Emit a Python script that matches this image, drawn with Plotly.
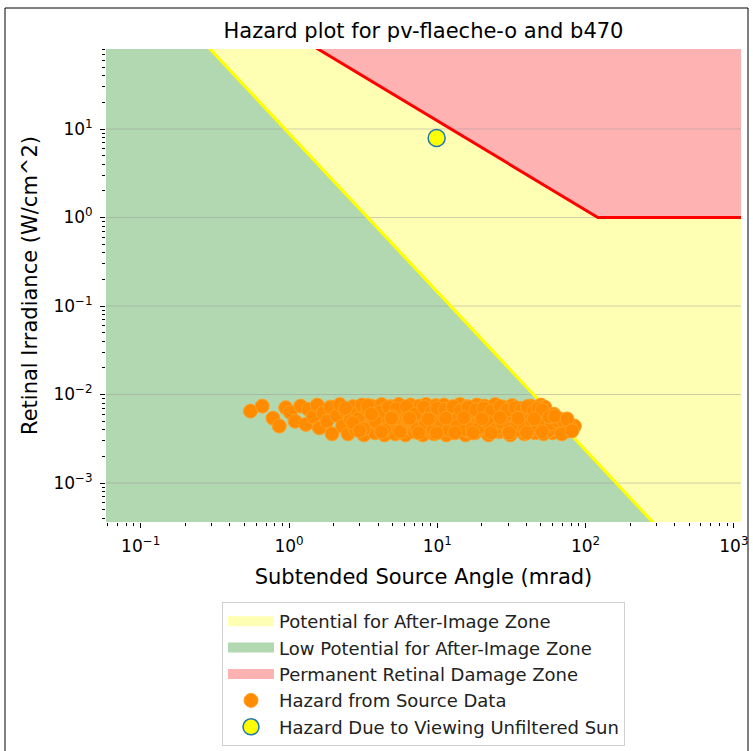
import plotly.graph_objects as go

# ---------------- data ----------------
x_range_log = [-1.234, 3.048]
y_range_log = [-3.44, 1.904]

# after-image threshold (yellow line) end points, extended beyond the frame
yellow_x = [0.1, 1000]
yellow_y = [550, 3.8e-5]
# permanent retinal damage threshold (red line)
red_x = [0.5, 121, 2000]
red_y = [254, 1.0, 1.0]

# hazard from source data (subtended angle mrad, retinal irradiance W/cm^2)
src_x = [0.55, 0.66, 0.78, 0.86, 0.95, 1.02, 1.1, 1.2, 1.3, 1.35, 1.45, 1.55, 1.6, 1.7, 1.8, 1.9, 1.95,
         2.1, 2.2, 2.3, 2.4, 2.5, 2.6, 2.7, 2.8, 2.9, 3.0, 3.1, 3.2, 3.3, 3.4, 3.5, 3.6, 3.7, 3.8, 3.9,
         4.0, 4.2, 4.3, 4.4, 4.5, 4.6, 4.8, 4.9,
         5.1, 5.2, 5.4, 5.5, 5.6, 5.8, 6.0, 6.1, 6.3, 6.5, 6.6, 6.8, 7.0, 7.2, 7.4, 7.6, 7.8, 8.0, 8.2,
         8.4, 8.6, 8.8, 9.0, 9.3, 9.5, 9.8,
         10.2, 10.5, 10.8, 11.1, 11.5, 11.8, 12.2, 12.6, 13.0, 13.4, 13.8, 14.2, 14.6, 15.0, 15.5, 16.0,
         16.5, 17.0, 17.5, 18.0, 18.5, 19.0, 19.6,
         20.2, 20.8, 21.5, 22.2, 23.0, 23.8, 24.6, 25.4, 26.2, 27.0, 28.0, 29.0, 30.0, 31.0, 32.0, 33.0,
         34.0, 35.0, 36.2, 37.4, 38.6, 39.8,
         41, 42.5, 44, 45.5, 47, 48.5, 50, 50, 53, 52, 54, 56, 58, 60, 62, 64, 66, 68, 70, 73, 76, 79, 84,
         11.0, 13.2, 15.8, 18.7, 21.9, 25.9, 30.5, 35.8, 42.0, 46.0, 57.0, 63.0, 71.0, 80.0,
         12.0, 14.0, 16.8, 19.8, 23.5, 27.8, 32.6, 38.0, 43.0, 49.0, 55.0, 61.0, 67.0, 74.0,
         2.4, 2.9, 3.4, 4.1, 4.7, 5.3, 6.2, 7.1, 8.1, 9.1, 10.0, 11.3, 12.8, 14.4, 16.2, 18.2, 20.5,
         23.2, 26.6, 29.6, 33.5, 37.0, 40.5, 44.8, 48.0, 51.0,
         2.7, 3.2, 3.8, 4.4, 5.0, 5.7, 6.4, 7.3, 8.3, 9.4, 10.6, 12.0, 13.6, 15.3, 17.2, 19.3, 21.7,
         24.4, 27.4, 30.8, 34.6, 38.9, 43.5, 47.5, 52.5, 59.0, 65.0, 72.0, 77.0,
         3.0, 3.6, 4.2, 4.9, 5.6, 6.5, 7.5, 8.7, 9.9, 11.4, 13.1, 15.1, 17.4, 20.0, 23.0, 26.5, 30.5,
         35.0, 40.0, 45.0, 51.0, 57.0, 62.0, 69.0, 75.0, 81.0]
src_y = [6.5e-3, 7.4e-3, 5.4e-3, 4.4e-3, 7.1e-3, 6.3e-3, 5.0e-3, 7.4e-3, 4.6e-3, 6.8e-3, 5.6e-3, 7.6e-3,
         4.2e-3, 6.2e-3, 5.0e-3, 7.2e-3, 3.6e-3,
         5.8e-3, 7.7e-3, 4.4e-3, 6.6e-3, 3.6e-3, 5.2e-3, 7.3e-3, 4.0e-3, 6.1e-3, 4.8e-3, 7.6e-3, 3.5e-3,
         5.6e-3, 6.8e-3, 4.3e-3, 7.4e-3, 5.1e-3, 3.7e-3, 6.3e-3,
         4.6e-3, 7.7e-3, 5.5e-3, 3.5e-3, 6.9e-3, 4.1e-3, 5.9e-3, 7.3e-3,
         4.8e-3, 3.6e-3, 6.5e-3, 7.7e-3, 5.3e-3, 4.2e-3, 7.0e-3, 3.5e-3, 6.0e-3, 4.7e-3, 7.6e-3, 5.6e-3,
         3.8e-3, 6.6e-3, 4.4e-3, 7.4e-3, 5.1e-3, 3.5e-3, 6.2e-3,
         7.7e-3, 4.0e-3, 5.7e-3, 6.9e-3, 4.6e-3, 3.6e-3, 7.5e-3,
         5.3e-3, 6.4e-3, 4.1e-3, 7.6e-3, 3.5e-3, 5.9e-3, 4.7e-3, 7.1e-3, 3.8e-3, 6.5e-3, 5.2e-3, 7.7e-3,
         4.3e-3, 6.0e-3, 3.5e-3, 7.3e-3,
         5.5e-3, 4.5e-3, 6.8e-3, 3.7e-3, 7.6e-3, 5.0e-3, 6.2e-3,
         4.0e-3, 7.4e-3, 5.7e-3, 3.5e-3, 6.6e-3, 4.6e-3, 7.7e-3, 5.3e-3, 3.8e-3, 6.1e-3, 7.2e-3, 4.3e-3,
         5.8e-3, 3.5e-3, 7.5e-3, 5.0e-3,
         6.5e-3, 4.0e-3, 7.0e-3, 5.5e-3, 3.6e-3, 6.2e-3,
         4.6e-3, 7.4e-3, 5.1e-3, 3.7e-3, 6.7e-3, 4.3e-3, 5.8e-3, 7.6e-3, 7.2e-3, 3.6e-3, 5.0e-3, 4.1e-3,
         5.4e-3, 3.7e-3, 4.6e-3, 5.2e-3, 3.9e-3, 4.8e-3, 4.3e-3, 3.8e-3, 4.5e-3, 4.2e-3, 4.4e-3,
         4.0e-3, 4.2e-3, 3.9e-3, 4.1e-3, 4.0e-3, 3.9e-3, 4.2e-3, 4.0e-3, 3.9e-3, 4.4e-3, 3.9e-3, 4.1e-3,
         3.8e-3, 4.0e-3,
         6.0e-3, 5.6e-3, 6.4e-3, 5.9e-3, 5.4e-3, 6.4e-3, 5.5e-3, 6.9e-3, 5.8e-3, 5.5e-3, 5.9e-3, 6.0e-3,
         5.3e-3, 5.0e-3,
         7.0e-3, 5.3e-3, 7.5e-3, 6.3e-3, 7.2e-3, 6.9e-3, 7.3e-3, 6.0e-3, 7.2e-3, 6.3e-3, 7.0e-3, 6.8e-3,
         7.3e-3, 6.6e-3, 7.2e-3, 6.7e-3, 7.0e-3, 6.5e-3, 7.3e-3, 6.7e-3, 7.1e-3, 6.8e-3, 7.3e-3, 6.5e-3,
         7.0e-3, 6.7e-3,
         4.8e-3, 4.1e-3, 5.0e-3, 4.0e-3, 5.6e-3, 3.9e-3, 5.2e-3, 4.1e-3, 4.6e-3, 4.0e-3, 4.4e-3, 4.0e-3,
         4.4e-3, 4.0e-3, 4.1e-3, 4.3e-3, 4.9e-3, 4.0e-3, 4.8e-3, 4.1e-3, 4.7e-3, 4.2e-3, 4.8e-3, 4.5e-3,
         4.6e-3, 4.7e-3, 5.0e-3, 4.9e-3, 4.6e-3,
         3.9e-3, 6.0e-3, 3.8e-3, 5.4e-3, 3.8e-3, 5.4e-3, 3.7e-3, 5.3e-3, 3.7e-3, 5.4e-3, 3.7e-3, 5.5e-3,
         3.7e-3, 5.3e-3, 3.7e-3, 5.5e-3, 3.7e-3, 5.4e-3, 3.7e-3, 5.3e-3, 3.8e-3, 5.6e-3, 5.7e-3, 3.6e-3,
         5.3e-3, 3.9e-3]

# hazard due to viewing the unfiltered sun
sun_x = [9.9]
sun_y = [7.9]

x_tick_exp = [-1, 0, 1, 2, 3]
y_tick_exp = [-3, -2, -1, 0, 1]
minor_mult = [2, 3, 4, 5, 6, 7, 8, 9]

title_text = "Hazard plot for pv-flaeche-o and b470"
x_title = "Subtended Source Angle (mrad)"
y_title = "Retinal Irradiance (W/cm^2)"

zone_names = ["Potential for After-Image Zone", "Low Potential for After-Image Zone",
              "Permanent Retinal Damage Zone"]
zone_colors = ["rgb(255,255,179)", "rgb(178,216,178)", "rgb(255,178,178)"]

# ---------------- figure ----------------
FONT = "DejaVu Sans"
xlo, xhi = 10 ** x_range_log[0], 10 ** x_range_log[1]
ylo, yhi = 10 ** y_range_log[0], 10 ** y_range_log[1]
ext_xlo, ext_xhi = xlo / 10, xhi * 10
ext_ylo, ext_yhi = ylo / 10, yhi * 10

fig = go.Figure()

# yellow zone: whole plot background
fig.add_trace(go.Scatter(
    x=[ext_xlo, ext_xhi, ext_xhi, ext_xlo, ext_xlo],
    y=[ext_ylo, ext_ylo, ext_yhi, ext_yhi, ext_ylo],
    fill="toself", mode="none", fillcolor=zone_colors[0], showlegend=False, hoverinfo="skip"))

# green zone: left of / below the yellow line
fig.add_trace(go.Scatter(
    x=[ext_xlo] + yellow_x + [ext_xlo, ext_xlo],
    y=[yellow_y[0]] + yellow_y + [yellow_y[-1], yellow_y[0]],
    fill="toself", mode="none", fillcolor=zone_colors[1], showlegend=False, hoverinfo="skip"))

# red zone: above the red line
fig.add_trace(go.Scatter(
    x=red_x + [red_x[-1], red_x[0], red_x[0]],
    y=red_y + [ext_yhi * 10, ext_yhi * 10, red_y[0]],
    fill="toself", mode="none", fillcolor=zone_colors[2], showlegend=False, hoverinfo="skip"))

# horizontal grid lines
gx, gy = [], []
for e in y_tick_exp:
    gx += [ext_xlo, ext_xhi, None]
    gy += [10 ** e, 10 ** e, None]
fig.add_trace(go.Scatter(x=gx, y=gy, mode="lines",
                         line=dict(color="rgba(150,150,150,0.45)", width=1),
                         showlegend=False, hoverinfo="skip"))

fig.add_trace(go.Scatter(x=yellow_x, y=yellow_y, mode="lines",
                         line=dict(color="#FFFF00", width=3), showlegend=False, hoverinfo="skip"))
fig.add_trace(go.Scatter(x=red_x, y=red_y, mode="lines",
                         line=dict(color="#FF0000", width=3), showlegend=False, hoverinfo="skip"))

# legend patches for the zones
for i, (nm, col) in enumerate(zip(zone_names, zone_colors)):
    fig.add_trace(go.Scatter(x=[None], y=[None], mode="lines", name=nm, legendgroup="z%d" % i,
                             line=dict(color=col, width=10)))

fig.add_trace(go.Scatter(
    x=src_x, y=src_y, mode="markers", name="Hazard from Source Data", legendgroup="d",
    marker=dict(size=14, color="#FF8C00", line=dict(color="#FFA020", width=1))))

fig.add_trace(go.Scatter(
    x=sun_x, y=sun_y, mode="markers", name="Hazard Due to Viewing Unfiltered Sun", legendgroup="e",
    marker=dict(size=17, color="#FFFF00", line=dict(color="#1f77b4", width=1.5))))

def sup(e):
    return "10<sup>" + ("\u2212" if e < 0 else "") + str(abs(e)) + "</sup>"

def minor_vals(rng):
    out = []
    for e in range(int(rng[0]) - 2, int(rng[1]) + 2):
        for m in minor_mult:
            out.append(m * 10 ** e)
    return out

axis_common = dict(
    type="log", showgrid=False, zeroline=False, showline=False,
    ticks="outside", ticklen=5, tickwidth=1, tickcolor="black", ticklabelstandoff=4,
    tickfont=dict(family=FONT, size=17, color="black"),
)

fig.update_xaxes(**axis_common, range=x_range_log,
                 tickvals=[10 ** e for e in x_tick_exp], ticktext=[sup(e) for e in x_tick_exp],
                 minor=dict(tickvals=minor_vals(x_range_log), ticks="outside", ticklen=3,
                            tickwidth=0.8, tickcolor="black", showgrid=False),
                 title=dict(text=x_title, font=dict(family=FONT, size=21, color="black"), standoff=13))
fig.update_yaxes(**axis_common, range=y_range_log,
                 tickvals=[10 ** e for e in y_tick_exp], ticktext=[sup(e) for e in y_tick_exp],
                 minor=dict(tickvals=minor_vals(y_range_log), ticks="outside", ticklen=3,
                            tickwidth=0.8, tickcolor="black", showgrid=False),
                 title=dict(text=y_title, font=dict(family=FONT, size=21, color="black"), standoff=10))

fig.update_layout(
    width=753, height=751,
    margin=dict(l=106, r=12, t=49, b=229, autoexpand=False),
    paper_bgcolor="white", plot_bgcolor="white",
    title=dict(text=title_text, x=(106 + 741) / 2 / 753, xanchor="center",
               y=1 - 31 / 751, yanchor="middle", yref="container",
               font=dict(family=FONT, size=21, color="black")),
    font=dict(family=FONT, color="black"),
    legend=dict(x=0.5, xanchor="center", y=(522 - 602) / 473, yanchor="top",
                bgcolor="white", bordercolor="#d0d0d0", borderwidth=1,
                font=dict(family=FONT, size=18, color="#222"),
                itemwidth=46, traceorder="grouped", tracegroupgap=0),
    shapes=[dict(type="rect", xref="paper", yref="paper",
                 x0=(5 - 106) / 635, x1=(748 - 106) / 635,
                 y0=(522 - 760) / 473, y1=(522 - 8) / 473,
                 line=dict(color="black", width=1), fillcolor="rgba(0,0,0,0)", layer="below")],
    showlegend=True,
)

fig.write_html("out.html")
